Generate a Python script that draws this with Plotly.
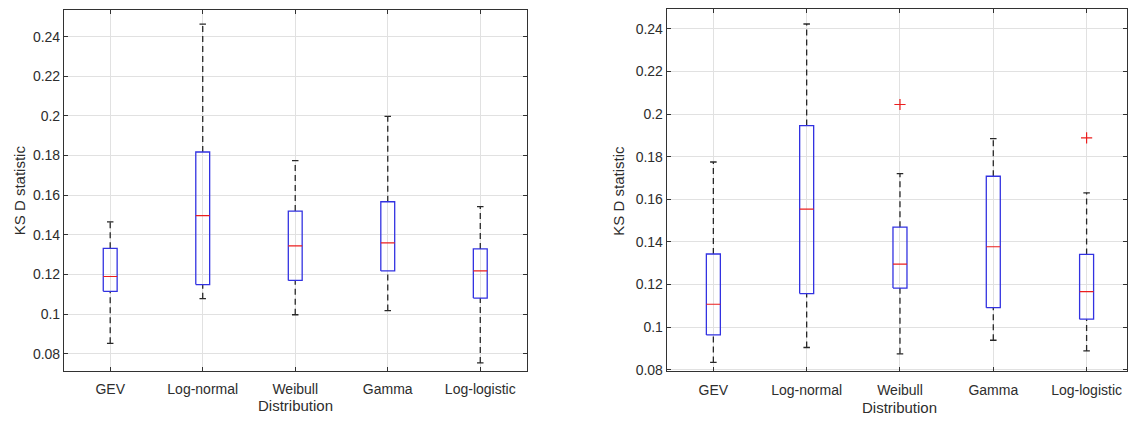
import plotly.graph_objects as go

# ---------------- data ----------------
categories = ["GEV", "Log-normal", "Weibull", "Gamma", "Log-logistic"]
y_ticks = [0.08, 0.1, 0.12, 0.14, 0.16, 0.18, 0.2, 0.22, 0.24]
y_tick_text = ["0.08", "0.1", "0.12", "0.14", "0.16", "0.18", "0.2", "0.22", "0.24"]

left_lower = [0.0853, 0.1078, 0.0997, 0.1018, 0.0754]
left_q1 = [0.1115, 0.1149, 0.1170, 0.1218, 0.1081]
left_median = [0.1190, 0.1497, 0.1344, 0.1360, 0.1218]
left_q3 = [0.1332, 0.1818, 0.1520, 0.1567, 0.1329]
left_upper = [0.1465, 0.2463, 0.1774, 0.1998, 0.1542]
left_outlier_cat = []
left_outlier_val = []

right_lower = [0.0834, 0.0904, 0.0874, 0.0938, 0.0888]
right_q1 = [0.0963, 0.1157, 0.1183, 0.1091, 0.1037]
right_median = [0.1107, 0.1554, 0.1295, 0.1377, 0.1166]
right_q3 = [0.1343, 0.1946, 0.1469, 0.1708, 0.1341]
right_upper = [0.1775, 0.2423, 0.1720, 0.1885, 0.1630]
right_outlier_cat = ["Weibull", "Log-logistic"]
right_outlier_val = [0.2045, 0.1888]

# ---------------- style ----------------
BOX_COLOR = "rgb(50,50,225)"
MED_COLOR = "rgb(235,30,30)"
WHISK_COLOR = "rgb(40,40,40)"
TEXT_COLOR = "rgb(45,45,45)"
GRID_COLOR = "rgb(225,225,225)"
AXIS_COLOR = "rgb(50,50,50)"
FONT = "Liberation Sans, Arial, sans-serif"
BOX_HW = 0.075
CAP_HW = 0.035

fig = go.Figure()


def add_boxplot(xa, ya, lower, q1, med, q3, upper, out_cat, out_val):
    pos = list(range(1, len(categories) + 1))
    bx, by, mx, my, wx, wy, cx, cy = [], [], [], [], [], [], [], []
    for p, lo, a, m, b, hi in zip(pos, lower, q1, med, q3, upper):
        bx += [p - BOX_HW, p + BOX_HW, p + BOX_HW, p - BOX_HW, p - BOX_HW, None]
        by += [a, a, b, b, a, None]
        mx += [p - BOX_HW, p + BOX_HW, None]
        my += [m, m, None]
        wx += [p, p, None, p, p, None]
        wy += [b, hi, None, lo, a, None]
        cx += [p - CAP_HW, p + CAP_HW, None, p - CAP_HW, p + CAP_HW, None]
        cy += [hi, hi, None, lo, lo, None]
    common = dict(xaxis=xa, yaxis=ya, mode="lines", showlegend=False, hoverinfo="skip")
    fig.add_trace(go.Scatter(x=wx, y=wy, line=dict(color=WHISK_COLOR, width=1.3, dash="6px,4px"), **common))
    fig.add_trace(go.Scatter(x=cx, y=cy, line=dict(color=WHISK_COLOR, width=1.3), **common))
    fig.add_trace(go.Scatter(x=bx, y=by, line=dict(color=BOX_COLOR, width=1.3), **common))
    fig.add_trace(go.Scatter(x=mx, y=my, line=dict(color=MED_COLOR, width=1.2), **common))
    if out_val:
        ox = [categories.index(c) + 1 for c in out_cat]
        fig.add_trace(go.Scatter(x=ox, y=out_val, xaxis=xa, yaxis=ya, mode="markers",
                                 marker=dict(symbol="cross-thin", size=8,
                                             line=dict(color=MED_COLOR, width=1.2)),
                                 showlegend=False, hoverinfo="skip"))


add_boxplot("x", "y", left_lower, left_q1, left_median, left_q3, left_upper,
            left_outlier_cat, left_outlier_val)
add_boxplot("x2", "y2", right_lower, right_q1, right_median, right_q3, right_upper,
            right_outlier_cat, right_outlier_val)

W, H = 1128, 421

axis_common = dict(
    showgrid=True, gridcolor=GRID_COLOR, gridwidth=1,
    showline=True, linecolor=AXIS_COLOR, linewidth=1, mirror="ticks",
    ticks="inside", ticklen=4, tickcolor=AXIS_COLOR,
    tickfont=dict(family=FONT, size=14, color=TEXT_COLOR),
    zeroline=False,
)

fig.update_layout(
    width=W, height=H,
    margin=dict(l=0, r=0, t=0, b=0),
    paper_bgcolor="white", plot_bgcolor="white",
    font=dict(family=FONT, color=TEXT_COLOR),
    xaxis=dict(domain=[64 / W, 527 / W], range=[0.5, 5.5], ticklabelstandoff=6,
               tickvals=list(range(1, 6)), ticktext=categories, anchor="y", **axis_common),
    yaxis=dict(domain=[(H - 376) / H, (H - 10) / H], range=[0.0715, 0.2535],
               tickvals=y_ticks, ticktext=y_tick_text, anchor="x", **axis_common),
    xaxis2=dict(domain=[667.3 / W, 1.0], range=[0.5, 5.433], ticklabelstandoff=6,
                tickvals=list(range(1, 6)), ticktext=categories, anchor="y2", **axis_common),
    yaxis2=dict(domain=[(H - 376.7) / H, (H - 9) / H], range=[0.0792, 0.2494],
                tickvals=y_ticks, ticktext=y_tick_text, anchor="x2", **axis_common),
)

title_font = dict(family=FONT, size=15, color=TEXT_COLOR)
fig.add_annotation(text="Distribution", xref="paper", yref="paper", x=296 / W, y=(H - 411) / H,
                   showarrow=False, xanchor="center", yanchor="middle", font=title_font)
fig.add_annotation(text="Distribution", xref="paper", yref="paper", x=900 / W, y=(H - 413) / H,
                   showarrow=False, xanchor="center", yanchor="middle", font=title_font)
fig.add_annotation(text="KS D statistic", xref="paper", yref="paper", x=19 / W, y=(H - 193) / H,
                   showarrow=False, xanchor="center", yanchor="middle", textangle=-90, font=title_font)
fig.add_annotation(text="KS D statistic", xref="paper", yref="paper", x=619 / W, y=(H - 193) / H,
                   showarrow=False, xanchor="center", yanchor="middle", textangle=-90, font=title_font)

fig.write_html("out.html")
